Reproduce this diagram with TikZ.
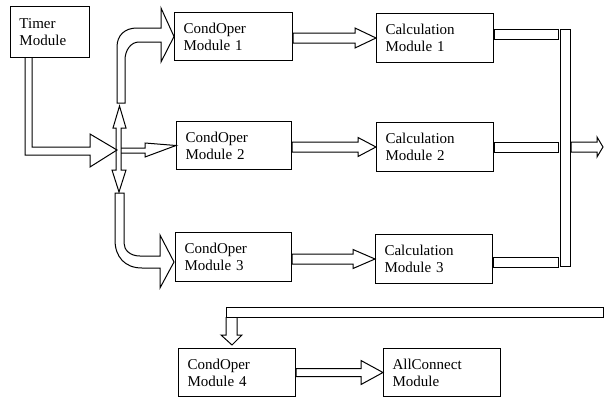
\documentclass[tikz,border=0pt]{standalone}
\usepackage{fontspec}
\setmainfont{Liberation Serif}
\usetikzlibrary{calc}
\newcommand\rarrow[5]{\draw[pipe] let \p1=(#1), \p2=(#2) in
 (\x1,\y2+#3pt) -- (\x2-#5pt,\y2+#3pt) -- (\x2-#5pt,\y2+#4pt) -- (\x2,\y2) --
 (\x2-#5pt,\y2-#4pt) -- (\x2-#5pt,\y2-#3pt) -- (\x1,\y2-#3pt) -- cycle;}
\begin{document}
\begin{tikzpicture}[x=1pt,y=-1pt,
  box/.style={draw, line width=1pt, align=left, inner xsep=9pt, inner ysep=0pt,
    font=\fontsize{15}{17}\selectfont, anchor=north west},
  pipe/.style={draw, line width=1pt, line join=miter}]
\useasboundingbox (0,0) rectangle (604,399);

% boxes
\node[box, minimum width=79, minimum height=51, text width=61] (timer) at (10,6) {Timer\\Module};
\node[box, minimum width=118, minimum height=48, text width=100] (c1) at (174,12) {CondOper\\Module 1};
\node[box, minimum width=115, minimum height=48, text width=97] (c2) at (176,121) {CondOper\\Module 2};
\node[box, minimum width=116, minimum height=49, text width=98] (c3) at (175,232) {CondOper\\Module 3};
\node[box, minimum width=117, minimum height=49, text width=99] (calc1) at (376,13) {Calculation\\Module 1};
\node[box, minimum width=117, minimum height=49, text width=99] (calc2) at (376,122) {Calculation\\Module 2};
\node[box, minimum width=117, minimum height=49, text width=99] (calc3) at (375,234) {Calculation\\Module 3};
\node[box, minimum width=117, minimum height=48, text width=99] (c4) at (178,348) {CondOper\\Module 4};
\node[box, minimum width=117, minimum height=48, text width=99] (all) at (383,348) {AllConnect\\Module};
\node[draw, line width=1pt, anchor=north west, inner sep=0pt, minimum width=10, minimum height=237] (bar) at (560,29) {};

% timer -> splitter
\draw[pipe] ($(timer.south west)+(15,0)$) -- (25,155) -- (90,155) -- (90,167) -- (117,150)
  -- (90,134) -- (90,147) -- (32,147) -- ($(timer.south west)+(22,0)$);

% vertical double arrow (splitter)
\draw[pipe] (116,128) -- (113,128) -- (119.5,106) -- (126,128) -- (121,128) -- (121,170)
  -- (126,170) -- (119,192) -- (112,170) -- (116,170) -- cycle;
% right arrow to c2
\draw[pipe] (121,148) -- (145,148) -- (145,143) -- (c2.west) -- (145,157) -- (145,153) -- (121,153);

% bent arrow up to c1
\draw[pipe] (117,103) -- (117,47) .. controls (117,35) and (125,28) .. (137,28) -- (161,28)
  -- (161,8) -- (c1.west) -- (161,62) -- (161,42) -- (139,42)
  .. controls (131,42) and (125,50) .. (125,60) -- (125,103) -- cycle;

% bent arrow down to c3
\draw[pipe] (115,193) -- (115,240) .. controls (115,257) and (125,268) .. (142,268) -- (160,268)
  -- (160,288) -- ($(c3.west)+(-1,5)$) -- (160,235) -- (160,256) -- (140,256)
  .. controls (130,256) and (124,250) .. (124,243) -- (124,193) -- cycle;

% straight arrows
\rarrow{c1.east}{calc1.west}{5}{10}{21}
\rarrow{c2.east}{calc2.west}{5}{9.5}{18}
\rarrow{c3.east}{calc3.west}{5}{9.5}{22}
\rarrow{c4.east}{all.west}{4}{12}{22}

% collector pipes
\draw[pipe] ($(calc1.north east)+(0,16)$) rectangle ($(bar.north west)+(-2,10)$);
\draw[pipe] ($(calc2.north east)+(0,20)$) rectangle ($(calc2.north east -| bar.west)+(-2,30)$);
\draw[pipe] ($(calc3.north east)+(0,23)$) rectangle ($(bar.south west)+(-2,0)$);

% output arrow
\coordinate (out) at (603,147);
\rarrow{bar.east}{out}{5}{10}{6}

% feedback pipe to c4
\draw[pipe] (226,307) rectangle (603,317);
\draw[pipe] (226,317) -- (226,335) -- (221,335) -- ($(c4.north)+(-5,-3)$) -- (242,335) -- (237,335) -- (237,317);
\end{tikzpicture}
\end{document}
